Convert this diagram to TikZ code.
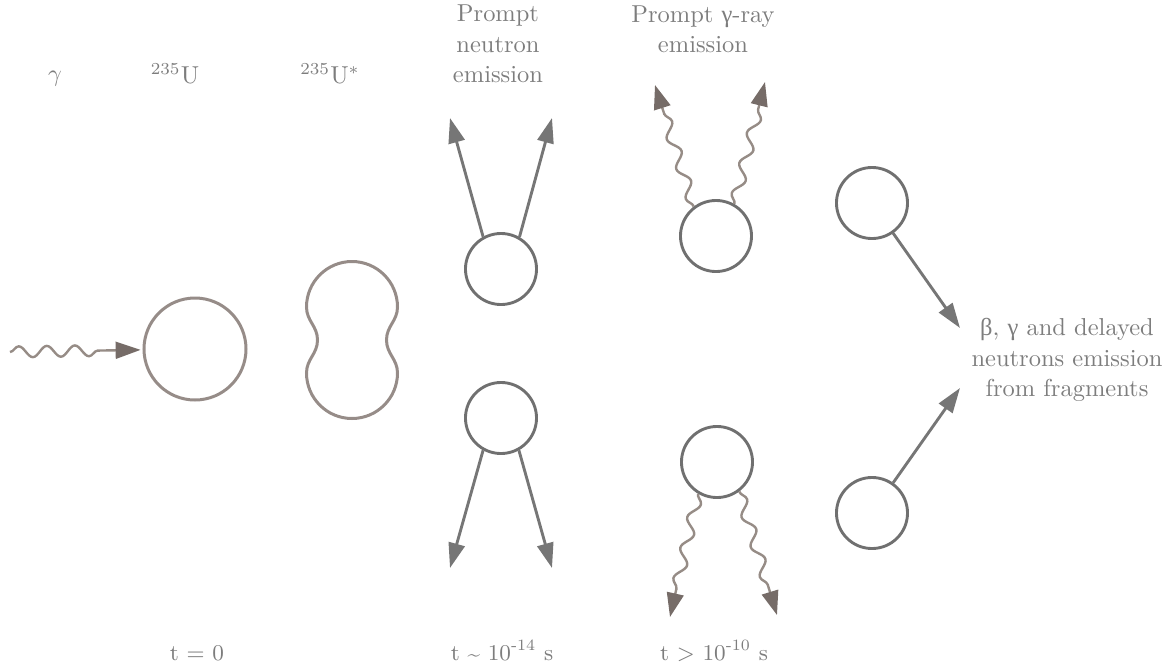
\documentclass[tikz,border=0pt]{standalone}
\usepackage{fontspec}
\newfontfamily\grk{Liberation Serif}
\usetikzlibrary{arrows.meta,decorations.pathmorphing}
\definecolor{txtgray}{RGB}{125,125,125}
\definecolor{lngray}{RGB}{118,118,118}
\definecolor{circgray}{RGB}{112,112,112}
\definecolor{brownln}{RGB}{150,140,136}
\definecolor{wavebrn}{RGB}{150,140,134}
\definecolor{wavehead}{RGB}{118,108,104}
\begin{document}
\begin{tikzpicture}[x=0.41667pt,y=-0.41667pt,
  lbl/.style={text=txtgray,font=\fontsize{10.2}{12.6}\selectfont,inner sep=0pt},
  tlbl/.style={text=txtgray,font=\fontsize{9.4}{11}\selectfont,inner sep=0pt,anchor=base},
  nuc/.style={circle,draw=circgray,line width=1.2pt,minimum size=29.6pt,inner sep=0pt},
  bignuc/.style={circle,draw=brownln,line width=1.25pt,minimum size=42.5pt,inner sep=0pt},
  narrow/.style={draw=lngray,line width=1.2pt,-{Triangle[length=10.4pt,width=6.8pt]}},
  gwave/.style={draw=wavebrn,line width=1pt,decorate,
    decoration={snake,amplitude=2.2pt,segment length=13pt,post length=10pt},
    -{Triangle[length=10pt,width=7pt,color=wavehead]}},
  inwave/.style={draw=wavebrn,line width=1pt,decorate,
    decoration={snake,amplitude=2.3pt,segment length=11.7pt,post length=14pt},
    -{Triangle[length=10.4pt,width=7pt,color=wavehead]}}]
\useasboundingbox (0,0) rectangle (1176,666);

% top labels
\node[lbl,anchor=base] (lg) at (55,81) {$\gamma$};
\node[lbl,anchor=base] (lu) at (175,83) {$^{235}$U};
\node[lbl,anchor=base] (lus) at (330,83) {$^{235}$U$^{*}$};
\node[lbl,align=center] (lpn) at (498,44) {Prompt\\neutron\\emission};
\node[lbl,align=center] (lpg) at (703,29) {Prompt {\grk γ}-ray\\emission};
\node[lbl,align=center] (lfr) at (1067,360) {{\grk β}, {\grk γ} and delayed\\neutrons emission\\from fragments};

% bottom labels
\node[tlbl] (t0) at (197,660) {t = 0};
\node[tlbl] (t1) at (502,660) {t \raisebox{-0.2ex}{\textasciitilde} 10\textsuperscript{-14} s};
\node[tlbl] (t2) at (714,660) {t > 10\textsuperscript{-10} s};

% incoming photon and compound nucleus
\node[bignuc] (bigc) at (195,349) {};
\coordinate (gsrc) at (10,352);
\draw[inwave,shorten >=0.8pt] (gsrc) -- (bigc);

% deformed nucleus
\draw[brownln,line width=1.25pt]
  (352,261.5) .. controls (377.1,261.5) and (397.5,281.9) .. (397.5,307)
  .. controls (397.5,321) and (386.5,326) .. (386.5,340)
  .. controls (386.5,354) and (397.5,359) .. (397.5,373)
  .. controls (397.5,398.1) and (377.1,418.5) .. (352,418.5)
  .. controls (326.9,418.5) and (306.5,398.1) .. (306.5,373)
  .. controls (306.5,359) and (317.5,354) .. (317.5,340)
  .. controls (317.5,326) and (306.5,321) .. (306.5,307)
  .. controls (306.5,281.9) and (326.9,261.5) .. (352,261.5) -- cycle;

% prompt neutrons
\node[nuc] (n1) at (501,269) {};
\node[nuc] (n2) at (501,418) {};
\coordinate (nt1) at (450,118);
\coordinate (nt2) at (552,118);
\coordinate (nb1) at (450,568);
\coordinate (nb2) at (552,568);
\draw[narrow] (n1.119) -- (nt1);
\draw[narrow] (n1.60) -- (nt2);
\draw[narrow] (n2.241) -- (nb1);
\draw[narrow] (n2.299) -- (nb2);

% prompt gamma rays
\node[nuc] (g1) at (716,236) {};
\node[nuc] (g2) at (717,462) {};
\coordinate (gt1) at (655,85);
\coordinate (gt2) at (765,82);
\coordinate (gb1) at (670,617);
\coordinate (gb2) at (777,615);
\draw[gwave] (g1.127) -- (gt1);
\draw[gwave] (g1.60) -- (gt2);
\draw[gwave] (g2.239) -- (gb1);
\draw[gwave] (g2.307) -- (gb2);

% fragments
\node[nuc] (f1) at (872,203) {};
\node[nuc] (f2) at (872,513) {};
\coordinate (ft1) at (960,328);
\coordinate (ft2) at (960,388);
\draw[narrow] (f1.305) -- (ft1);
\draw[narrow] (f2.55) -- (ft2);
\end{tikzpicture}
\end{document}
